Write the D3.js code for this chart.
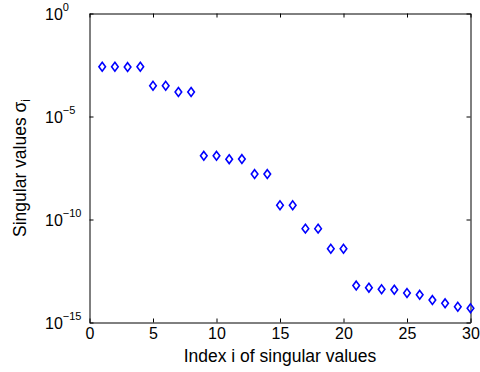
<!DOCTYPE html>
<html>
<head>
<meta charset="utf-8">
<script src="https://cdn.jsdelivr.net/npm/d3@7"></script>
<style>
  html, body { margin: 0; padding: 0; background: #fff; }
  svg { display: block; font-family: "Liberation Sans", Arial, sans-serif; }
</style>
</head>
<body>
<svg id="chart"></svg>
<script>
// singular values
let indices = d3.range(1, 31)
let sigma = [
  2.6e-3, 2.6e-3, 2.5e-3, 2.6e-3,
  3.1e-4, 3.1e-4, 1.55e-4, 1.55e-4,
  1.23e-7, 1.23e-7, 8.5e-8, 8.6e-8,
  1.6e-8, 1.6e-8, 4.9e-10, 4.9e-10,
  3.6e-11, 3.6e-11, 3.8e-12, 3.8e-12,
  6.2e-14, 4.9e-14, 4.1e-14, 3.9e-14,
  2.7e-14, 2.2e-14, 1.23e-14, 8.5e-15,
  5.8e-15, 4.9e-15
]
let xTicks = [0, 5, 10, 15, 20, 25, 30]
let yTickExps = [0, -5, -10, -15]

let width = 480
let height = 372
let margin = {left: 89.5, right: 9.5, top: 13.5, bottom: 49.5}

let svg = d3.select('#chart')
  .attr('width', width)
  .attr('height', height)

let x = d3.scaleLinear().domain([0, 30]).range([margin.left, width - margin.right])
let y = d3.scaleLog().domain([1e-15, 1]).range([height - margin.bottom, margin.top])

let tickLen = 4

// x axes (bottom with labels, top mirrored)
let xBottom = svg.append('g')
  .attr('transform', `translate(0,${height - margin.bottom})`)
  .call(d3.axisBottom(x).tickValues(xTicks).tickSizeInner(-tickLen).tickSizeOuter(0).tickPadding(5))
xBottom.selectAll('text')
  .attr('font-size', 16)
  .attr('fill', '#000')
  .attr('dy', '0.71em')

svg.append('g')
  .attr('transform', `translate(0,${margin.top})`)
  .call(d3.axisTop(x).tickValues(xTicks).tickSizeInner(-tickLen).tickSizeOuter(0).tickFormat(''))

// y axes (left with labels, right mirrored)
let yVals = yTickExps.map(e => Math.pow(10, e))
svg.append('g')
  .attr('transform', `translate(${margin.left},0)`)
  .call(d3.axisLeft(y).tickValues(yVals).tickSizeInner(-tickLen).tickSizeOuter(0).tickFormat(''))

svg.append('g')
  .attr('transform', `translate(${width - margin.right},0)`)
  .call(d3.axisRight(y).tickValues(yVals).tickSizeInner(-tickLen).tickSizeOuter(0).tickFormat(''))

svg.selectAll('.domain').attr('stroke', '#000').attr('stroke-width', 1)
svg.selectAll('.tick line').attr('stroke', '#000').attr('stroke-width', 1)

// y tick labels: 10 with superscript exponent, left aligned like MATLAB
yTickExps.forEach(e => {
  let t = svg.append('text')
    .attr('x', 45)
    .attr('y', y(Math.pow(10, e)) + 6)
    .attr('font-size', 16)
    .attr('fill', '#000')
  t.append('tspan').text('10')
  t.append('tspan')
    .attr('font-size', 11)
    .attr('dy', -9)
    .text(e === 0 ? '0' : '\u2212' + Math.abs(e))
})

// markers
let hw = 3.3, hh = 4.4
svg.append('g')
  .selectAll('path.pt')
  .data(sigma)
  .enter().append('path')
  .attr('class', 'pt')
  .attr('d', (d, i) => {
    let cx = x(indices[i]), cy = y(d)
    return `M${cx},${cy - hh}L${cx + hw},${cy}L${cx},${cy + hh}L${cx - hw},${cy}Z`
  })
  .attr('fill', 'none')
  .attr('stroke', '#0000ff')
  .attr('stroke-width', 1.6)

// axis labels
svg.append('text')
  .attr('x', (margin.left + width - margin.right) / 2)
  .attr('y', 362)
  .attr('text-anchor', 'middle')
  .attr('font-size', 17.5)
  .attr('fill', '#000')
  .text('Index i of singular values')

let yl = svg.append('text')
  .attr('transform', `translate(26,${(margin.top + height - margin.bottom) / 2}) rotate(-90)`)
  .attr('text-anchor', 'middle')
  .attr('font-size', 17.5)
  .attr('fill', '#000')
yl.append('tspan').text('Singular values \u03c3')
yl.append('tspan').attr('font-size', 12).attr('dy', 4).text('i')
</script>
</body>
</html>
